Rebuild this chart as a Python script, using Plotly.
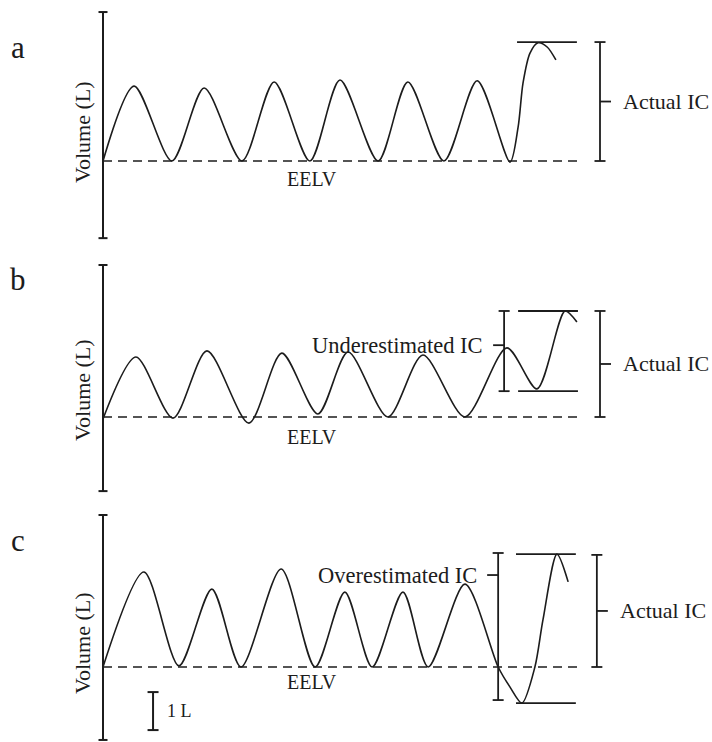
import plotly.graph_objects as go

# ---------------- data (time in s, volume in L relative to EELV) ----------------
panel_letters = ["a", "b", "c"]

time_a = [0, 0.89, 1.97, 2.89, 3.97, 4.89, 5.91, 6.77, 7.86, 8.71, 9.74, 10.69, 11.63, 11.86, 12.0, 12.2, 12.43, 12.69, 12.94]
vol_a = [0, 1.97, 0, 1.92, 0, 2.08, 0, 2.13, 0, 2.08, 0, 2.11, -0.03, 0.89, 2.05, 2.84, 3.11, 3.0, 2.66]

time_b = [0, 0.94, 2.0, 2.97, 4.17, 5.11, 6.14, 7.0, 8.14, 9.14, 10.34, 11.54, 12.4, 13.2, 13.54]
vol_b = [-0.05, 1.58, -0.03, 1.74, -0.16, 1.68, 0.08, 1.71, 0, 1.63, 0, 1.82, 0.74, 2.79, 2.5]

time_c = [0, 1.17, 2.17, 3.11, 3.94, 5.09, 6.06, 6.91, 7.69, 8.57, 9.29, 10.34, 11.29, 11.63, 11.97, 12.34, 12.57, 12.97, 13.29]
vol_c = [0, 2.5, 0.03, 2.05, 0, 2.58, 0, 1.97, 0, 1.97, 0, 2.18, 0, -0.53, -0.95, 0, 1.24, 2.97, 2.24]

# axis extents (L) per panel
axis_top = [3.92, 4.0, 4.0]
axis_bottom = [-2.03, -1.95, -1.92]
eelv_end = [13.57, 13.69, 13.63]

# actual IC (L) and bracket time
actual_ic = [3.13, 2.79, 2.95]
actual_ic_t = [14.2, 14.2, 14.11]
# reference horizontal lines at IC manoeuvre extremes
ref_line_t = [(11.83, 13.54), (11.86, 13.57), (11.8, 13.51)]
ref_line_top = [3.13, 2.79, 2.97]
ref_line_bottom = [None, 0.68, -0.95]

# estimated IC brackets (panel b: under, panel c: over)
est_label = [None, "Underestimated IC", "Overestimated IC"]
est_t = [None, 11.46, 11.29]
est_top = [None, 2.79, 3.0]
est_bottom = [None, 0.68, -0.87]
est_tick = [None, 1.89, 2.42]

scale_bar_t = 1.43
scale_bar_v = (-1.66, -0.66)

# ---------------- layout constants ----------------
W, H = 712, 742
X0_PX = 103
PX_S = 35.0
PX_L = 38.0
panel_px = [(0, 247, 161), (247, 497, 417), (497, 742, 667)]
INK = "#1c1c1c"
FONT = "Liberation Serif"

fig = go.Figure()
series = [(time_a, vol_a), (time_b, vol_b), (time_c, vol_c)]
shapes = []
annotations = []


def line(i, x0, y0, x1, y1, width=1.6, dash=None):
    ax = "" if i == 0 else str(i + 1)
    d = dict(type="line", xref="x" + ax, yref="y" + ax, x0=x0, y0=y0, x1=x1, y1=y1,
             line=dict(color=INK, width=width))
    if dash:
        d["line"]["dash"] = dash
    shapes.append(d)


def text(i, x, y, s, size, xanchor="center", angle=0):
    ax = "" if i == 0 else str(i + 1)
    annotations.append(dict(xref="x" + ax, yref="y" + ax, x=x, y=y, text=s, showarrow=False,
                            xanchor=xanchor, yanchor="middle", textangle=angle,
                            font=dict(family=FONT, size=size, color=INK)))


cap = 4.5 / PX_S
bcap = 5.5 / PX_S
tick = 11 / PX_S

for i, (t, v) in enumerate(series):
    ax = "" if i == 0 else str(i + 1)
    fig.add_trace(go.Scatter(x=t, y=v, mode="lines", xaxis="x" + ax, yaxis="y" + ax,
                             line=dict(color=INK, width=1.6, shape="spline", smoothing=0.8),
                             hoverinfo="skip", showlegend=False))
    top, bot, eel = panel_px[i]
    fig.layout["xaxis" + ax] = dict(domain=[0, 1], range=[-X0_PX / PX_S, (W - X0_PX) / PX_S],
                                    visible=False, anchor="y" + ax, fixedrange=True)
    fig.layout["yaxis" + ax] = dict(domain=[1 - bot / H, 1 - top / H],
                                    range=[(eel - bot) / PX_L, (eel - top) / PX_L],
                                    visible=False, anchor="x" + ax, fixedrange=True)

    # volume axis with caps
    line(i, 0, axis_bottom[i], 0, axis_top[i], width=2)
    line(i, -cap, axis_top[i], cap, axis_top[i], width=2)
    line(i, -cap, axis_bottom[i], cap, axis_bottom[i], width=2)
    # EELV dashed
    line(i, 0, 0, eelv_end[i], 0, width=1.5, dash="9px,6px")
    # reference horizontal lines
    t0, t1 = ref_line_t[i]
    line(i, t0, ref_line_top[i], t1, ref_line_top[i], width=1.8)
    if ref_line_bottom[i] is not None:
        line(i, t0, ref_line_bottom[i], t1, ref_line_bottom[i], width=1.8)
    # actual IC bracket
    xa = actual_ic_t[i]
    line(i, xa, 0, xa, actual_ic[i], width=1.8)
    line(i, xa - bcap, 0, xa + bcap, 0, width=1.8)
    line(i, xa - bcap, actual_ic[i], xa + bcap, actual_ic[i], width=1.8)
    mid = actual_ic[i] / 2
    line(i, xa, mid, xa + tick, mid, width=1.8)
    text(i, xa + 21 / PX_S, mid, "Actual IC", 22, xanchor="left")
    # estimated IC bracket
    if est_label[i]:
        xe = est_t[i]
        line(i, xe, est_bottom[i], xe, est_top[i], width=1.8)
        line(i, xe - bcap, est_top[i], xe + bcap, est_top[i], width=1.8)
        line(i, xe - bcap, est_bottom[i], xe + bcap, est_bottom[i], width=1.8)
        line(i, xe - tick, est_tick[i], xe, est_tick[i], width=1.8)
        text(i, xe - 19 / PX_S, est_tick[i], est_label[i], 22.5, xanchor="right")
    # labels
    text(i, (312 - X0_PX) / PX_S, [-0.47, -0.53, -0.39][i], "EELV", 20)
    text(i, (82 - X0_PX) / PX_S, [0.76, 0.71, 0.63][i], "Volume (L)", 22, angle=-90)
    text(i, (18 - X0_PX) / PX_S, [3.0, 3.63, 3.32][i], panel_letters[i], 31)

# scale bar in panel c
line(2, scale_bar_t, scale_bar_v[0], scale_bar_t, scale_bar_v[1], width=2)
line(2, scale_bar_t - 5.5 / PX_S, scale_bar_v[0], scale_bar_t + 5.5 / PX_S, scale_bar_v[0], width=2)
line(2, scale_bar_t - 5.5 / PX_S, scale_bar_v[1], scale_bar_t + 5.5 / PX_S, scale_bar_v[1], width=2)
text(2, scale_bar_t + 12 / PX_S, sum(scale_bar_v) / 2, "1 L", 18, xanchor="left")

fig.update_layout(width=W, height=H, autosize=False, margin=dict(l=0, r=0, t=0, b=0),
                  paper_bgcolor="white", plot_bgcolor="white", shapes=shapes,
                  annotations=annotations, showlegend=False)

fig.write_html("out.html", config={"displayModeBar": False})
